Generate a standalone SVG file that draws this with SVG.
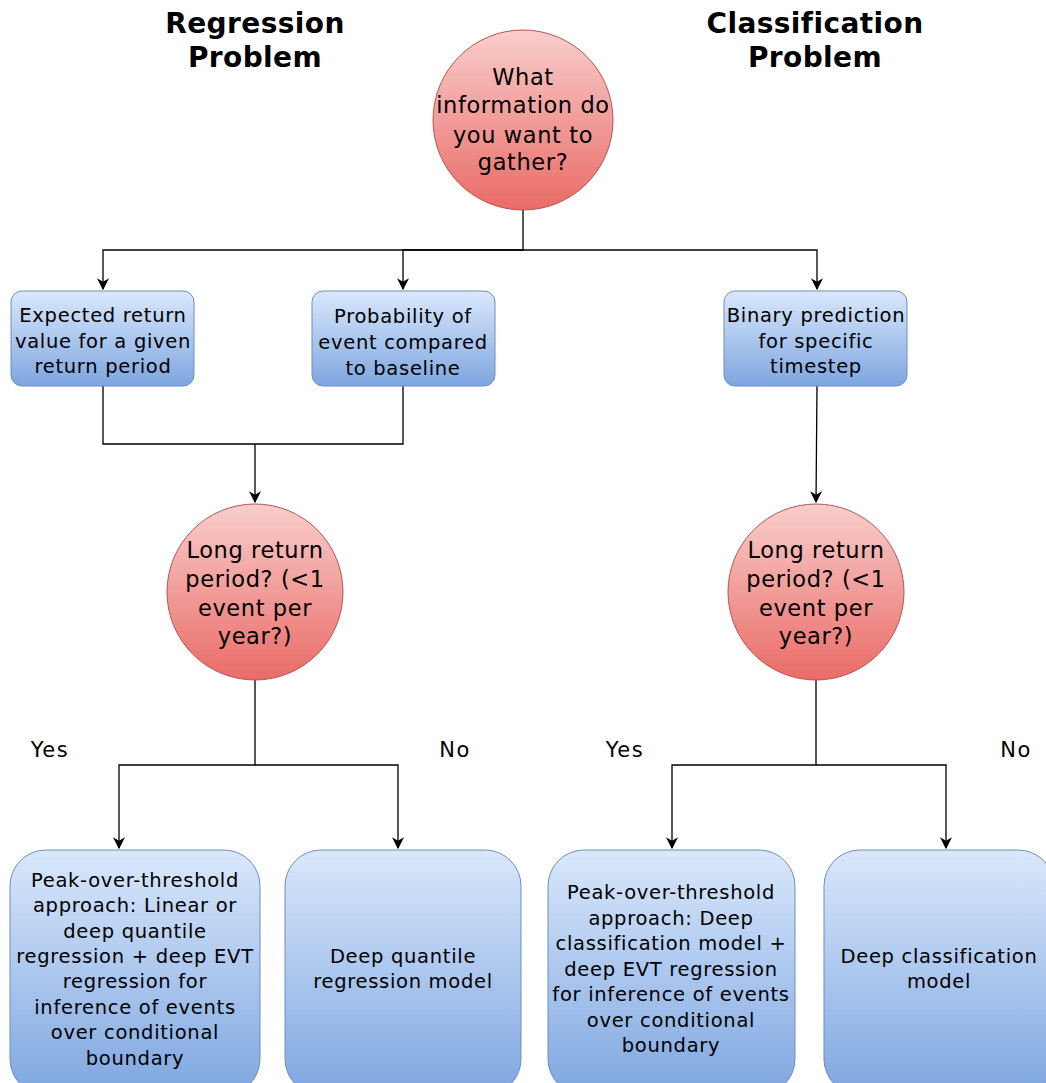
<svg xmlns="http://www.w3.org/2000/svg" width="1046" height="1083" viewBox="0 0 1046 1083">
<defs>
<linearGradient id="blue" x1="0" y1="0" x2="0" y2="1"><stop offset="0" stop-color="#dae8fc"/><stop offset="1" stop-color="#7ea6e0"/></linearGradient>
<linearGradient id="red" x1="0" y1="0" x2="0" y2="1"><stop offset="0" stop-color="#f8cecc"/><stop offset="1" stop-color="#ea6b66"/></linearGradient>
<marker id="arr" viewBox="0 0 10 10" refX="9" refY="5" markerWidth="12" markerHeight="12" markerUnits="userSpaceOnUse" orient="auto"><path d="M0,0 L10,5 L0,10 L3,5 Z" fill="#000"/></marker>
</defs>
<style>
.box{fill:url(#blue);stroke:#6c8ebf;stroke-width:1}
.circ{fill:url(#red);stroke:#b85450;stroke-width:1}
text{font-family:"DejaVu Sans",Verdana,sans-serif;fill:#000;text-anchor:middle}
.t{font-size:19.5px;letter-spacing:0.7px}
.c{font-size:22.5px;letter-spacing:0.6px}
.lbl{font-size:21px;letter-spacing:1.5px}
.title{font-size:28px;font-weight:bold;letter-spacing:0.4px}
.edge{fill:none;stroke:#000;stroke-width:1.3}
</style>
<g id="connectors">
<path class="edge" d="M523,210 V250 H103 V289" marker-end="url(#arr)"/>
<path class="edge" d="M523,250 H403 V289" marker-end="url(#arr)"/>
<path class="edge" d="M523,250 H817 V289" marker-end="url(#arr)"/>
<path class="edge" d="M103,386 V444 H403 V386"/>
<path class="edge" d="M255,444 V502" marker-end="url(#arr)"/>
<path class="edge" d="M817,386 L816,502" marker-end="url(#arr)"/>
<path class="edge" d="M255,680 V765 H119 V848" marker-end="url(#arr)"/>
<path class="edge" d="M255,765 H398 V848" marker-end="url(#arr)"/>
<path class="edge" d="M816,680 V765 H672 V848" marker-end="url(#arr)"/>
<path class="edge" d="M816,765 H946 V848" marker-end="url(#arr)"/>
</g>
<g id="title-regression"><text class="title" x="255" y="33">Regression</text><text class="title" x="255" y="67">Problem</text></g>
<g id="title-classification"><text class="title" x="815" y="33">Classification</text><text class="title" x="815" y="67">Problem</text></g>
<g id="q-info"><circle class="circ" cx="523" cy="120" r="90"/>
<text class="c" x="523" y="85">What</text><text class="c" x="523" y="113">information do</text><text class="c" x="523" y="143">you want to</text><text class="c" x="523" y="170">gather?</text></g>
<g id="expected"><rect class="box" x="11" y="291" width="183" height="95" rx="11"/>
<text class="t" x="103" y="322">Expected return</text><text class="t" x="103" y="348">value for a given</text><text class="t" x="103" y="373">return period</text></g>
<g id="probability"><rect class="box" x="312" y="291" width="183" height="95" rx="11"/>
<text class="t" x="403" y="323">Probability of</text><text class="t" x="403" y="349">event compared</text><text class="t" x="403" y="375">to baseline</text></g>
<g id="binary"><rect class="box" x="724" y="291" width="183" height="95" rx="11"/>
<text class="t" x="816" y="322">Binary prediction</text><text class="t" x="816" y="348">for specific</text><text class="t" x="816" y="373">timestep</text></g>
<g id="q-long-reg"><circle class="circ" cx="255" cy="592" r="88"/>
<text class="c" x="255" y="558">Long return</text><text class="c" x="255" y="587">period? (&lt;1</text><text class="c" x="255" y="616">event per</text><text class="c" x="255" y="644">year?)</text></g>
<g id="q-long-cls"><circle class="circ" cx="816" cy="592" r="88"/>
<text class="c" x="816" y="558">Long return</text><text class="c" x="816" y="587">period? (&lt;1</text><text class="c" x="816" y="616">event per</text><text class="c" x="816" y="644">year?)</text></g>
<g id="labels">
<text class="lbl" x="50" y="757">Yes</text><text class="lbl" x="455" y="757">No</text>
<text class="lbl" x="625" y="757">Yes</text><text class="lbl" x="1016" y="757">No</text>
</g>
<g id="pot-reg"><rect class="box" x="10" y="850" width="250" height="245" rx="36"/>
<text class="t"><tspan x="135" y="887">Peak-over-threshold</tspan><tspan x="135" y="912">approach: Linear or</tspan><tspan x="135" y="938">deep quantile</tspan><tspan x="135" y="963">regression + deep EVT</tspan><tspan x="135" y="988">regression for</tspan><tspan x="135" y="1014">inference of events</tspan><tspan x="135" y="1039">over conditional</tspan><tspan x="135" y="1065">boundary</tspan></text></g>
<g id="deep-quantile"><rect class="box" x="285" y="850" width="236" height="245" rx="36"/>
<text class="t"><tspan x="403" y="963">Deep quantile</tspan><tspan x="403" y="988">regression model</tspan></text></g>
<g id="pot-cls"><rect class="box" x="548" y="850" width="247" height="245" rx="36"/>
<text class="t"><tspan x="671" y="899">Peak-over-threshold</tspan><tspan x="671" y="925">approach: Deep</tspan><tspan x="671" y="950">classification model +</tspan><tspan x="671" y="976">deep EVT regression</tspan><tspan x="671" y="1001">for inference of events</tspan><tspan x="671" y="1027">over conditional</tspan><tspan x="671" y="1052">boundary</tspan></text></g>
<g id="deep-cls"><rect class="box" x="824" y="850" width="230" height="245" rx="36"/>
<text class="t"><tspan x="939" y="963">Deep classification</tspan><tspan x="939" y="988">model</tspan></text></g>
</svg>
